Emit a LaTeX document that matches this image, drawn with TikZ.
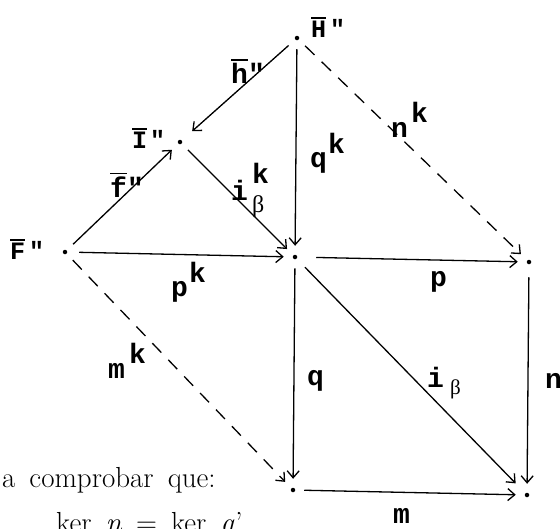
\documentclass[tikz,border=0pt]{standalone}
\usepackage{fontspec}
\usetikzlibrary{arrows.meta}
\newfontfamily\tw{Liberation Mono}
\newfontfamily\gr{Liberation Serif}
\newcommand\bb[1]{{\fontsize{#1}{#1}\selectfont\gr\mdseries β}}
\newcommand\ovl[1]{\leavevmode\vbox{\hrule height 1.5pt\kern2pt\hbox{#1}}}
\newcommand\wsp{\spaceskip 14pt\relax}
\begin{document}
\begin{tikzpicture}[x=1pt,y=-1pt,
  dot/.style={circle,fill=black,inner sep=0pt,minimum size=4.5pt,outer sep=7pt},
  arr/.style={line width=1.3pt,-{Straight Barb[length=7pt,width=12pt]},shorten >=2pt,shorten <=2pt},
  dsh/.style={arr,dash pattern=on 13pt off 10pt},
  lab/.style={inner sep=0pt,anchor=base west,font=\fontsize{28}{28}\selectfont\tw\bfseries},
  caplab/.style={lab,font=\fontsize{25}{25}\selectfont\tw\bfseries},
  txt/.style={inner sep=0pt,anchor=base west,font=\fontsize{29}{30}\selectfont\wsp}]
\useasboundingbox (0,0) rectangle (560,528);
\clip (0,0) rectangle (560,528);
% points
\node[dot] (H) at (297,38) {};
\node[dot] (I) at (180,142) {};
\node[dot] (F) at (65,252) {};
\node[dot] (C) at (295,257) {};
\node[dot] (R) at (529,262) {};
\node[dot] (BL) at (293,490) {};
\node[dot] (BR) at (527,495) {};
% connectors
\draw[arr,shorten >=7pt] (H) -- (I);
\draw[arr] (F) -- (I);
\draw[arr] (I) -- (C);
\draw[arr,shorten <=5pt] (F) -- (C);
\draw[arr] (H) -- (C);
\draw[dsh] (H) -- (R);
\draw[arr,shorten <=12pt] (C) -- (R);
\draw[dsh] (F) -- (BL);
\draw[arr] (C) -- (BL);
\draw[arr,shorten >=7pt,shorten <=5pt] (C) -- (BR);
\draw[arr,shorten <=6pt] (R) -- (BR);
\draw[arr] (BL) -- (BR);
% point labels
\node[caplab] (lH) at (311,37) {\ovl{H}\kern4pt"};
\node[caplab] (lI) at (132,148) {\ovl{I}\kern3pt"};
\node[caplab] (lF) at (10,259) {\ovl{F}\kern4pt"};
% arrow labels
\node[lab] (lh) at (231,83) {\ovl{h}"};
\node[lab] (lf) at (110,197) {\ovl{f}"};
\node[lab] (li1) at (231,200) {i\kern4pt\rlap{\raisebox{17pt}{k}}\raisebox{-12pt}{\bb{24}}};
\node[lab] (lqk) at (310,167) {q\kern1pt\raisebox{14pt}{k}};
\node[lab] (lnk) at (391,137) {n\kern3pt\raisebox{15pt}{k}};
\node[lab] (lpk) at (171,296) {p\kern1pt\raisebox{14pt}{k}};
\node[lab] (lp) at (430,286) {p};
\node[lab] (lmk) at (108,378) {m\kern4pt\raisebox{15pt}{k}};
\node[lab] (lq) at (307,385) {q};
\node[lab] (li2) at (427,387) {i\kern6pt\raisebox{-7pt}{\bb{21}}};
\node[lab] (ln) at (545,388) {n};
\node[lab] (lm) at (393,523) {m};
% text
\node[txt] (t1) at (2,487) {a comprobar que:};
\node[txt] (t2) at (56,532) {ker \textit{n} = ker \textit{q}\kern1pt’};
\end{tikzpicture}
\end{document}
